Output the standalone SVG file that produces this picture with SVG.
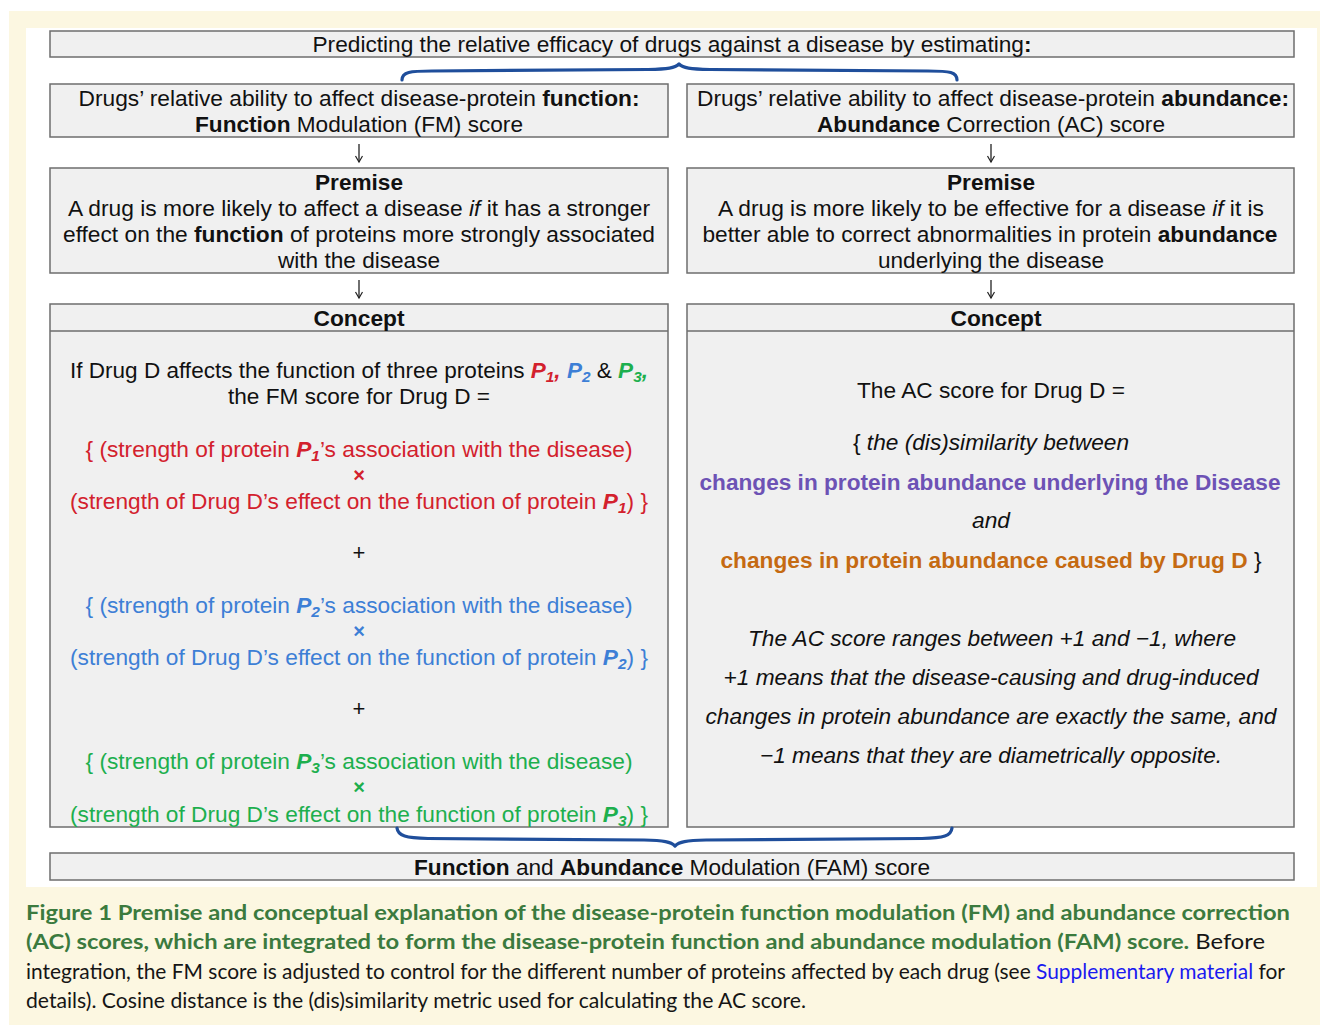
<svg xmlns="http://www.w3.org/2000/svg" width="1320" height="1025" viewBox="0 0 1320 1025">
<defs>
<style>
.bg{fill:#fcf7e1}
.panel{fill:#ffffff}
.box{fill:#f0f0f0;stroke:#6e6e6e;stroke-width:1.5}
.t{font-family:"Liberation Sans",Arial,Helvetica,sans-serif;font-size:22px;fill:#111;text-anchor:middle}
.b{font-weight:bold}
.i{font-style:italic}
.bi{font-weight:bold;font-style:italic}
.sub{font-size:15px}
.red{fill:#d3212d}
.blue{fill:#3d7fd6}
.green{fill:#1daf4e}
.purple{fill:#6d52b5}
.orange{fill:#c56a12}
.x{font-weight:bold;font-size:20px}
.brace{fill:none;stroke:#1f4e9b;stroke-width:3.2;stroke-linecap:round;stroke-linejoin:round}
.arr{stroke:#222;stroke-width:1.3;fill:none}
.cap{font-family:Lato,"Open Sans","Liberation Sans",sans-serif;font-size:21px;fill:#151515}
.capg{fill:#3b7a3e;font-weight:bold}
.link{fill:#1a1af0}
</style>
<marker id="ah" markerWidth="10" markerHeight="10" refX="7" refY="4" orient="auto" markerUnits="userSpaceOnUse">
<path d="M1,0.5 L7,4 L1,7.5" fill="none" stroke="#222" stroke-width="1.2"/>
</marker>
</defs>

<rect x="0" y="0" width="1320" height="1025" fill="#ffffff"/>
<rect class="bg" x="9" y="11" width="1311" height="1014"/>
<rect class="panel" x="26" y="28" width="1291" height="859"/>

<g id="title">
<rect class="box" x="50" y="31" width="1244" height="26"/>
<text class="t" x="672" y="52" textLength="719" lengthAdjust="spacingAndGlyphs">Predicting the relative efficacy of drugs against a disease by estimating<tspan class="b">:</tspan></text>
</g>

<g id="fm-score">
<rect class="box" x="50" y="84" width="618" height="53"/>
<text class="t" x="359" y="106" textLength="561" lengthAdjust="spacingAndGlyphs">Drugs’ relative ability to affect disease-protein <tspan class="b">function:</tspan></text>
<text class="t" x="359" y="132" textLength="328" lengthAdjust="spacingAndGlyphs"><tspan class="b">Function</tspan> Modulation (FM) score</text>
</g>

<g id="ac-score">
<rect class="box" x="687" y="84" width="607" height="53"/>
<text class="t" x="993" y="106" textLength="592" lengthAdjust="spacingAndGlyphs">Drugs’ relative ability to affect disease-protein <tspan class="b">abundance:</tspan></text>
<text class="t" x="991" y="132" textLength="348" lengthAdjust="spacingAndGlyphs"><tspan class="b">Abundance</tspan> Correction (AC) score</text>
</g>

<g id="fm-premise">
<rect class="box" x="50" y="168" width="618" height="105"/>
<text class="t b" x="359" y="190" textLength="88" lengthAdjust="spacingAndGlyphs">Premise</text>
<text class="t" x="359" y="216" textLength="582" lengthAdjust="spacingAndGlyphs">A drug is more likely to affect a disease <tspan class="i">if</tspan> it has a stronger</text>
<text class="t" x="359" y="242" textLength="592" lengthAdjust="spacingAndGlyphs">effect on the <tspan class="b">function</tspan> of proteins more strongly associated</text>
<text class="t" x="359" y="268" textLength="162" lengthAdjust="spacingAndGlyphs">with the disease</text>
</g>

<g id="ac-premise">
<rect class="box" x="687" y="168" width="607" height="105"/>
<text class="t b" x="991" y="190" textLength="88" lengthAdjust="spacingAndGlyphs">Premise</text>
<text class="t" x="991" y="216" textLength="546" lengthAdjust="spacingAndGlyphs">A drug is more likely to be effective for a disease <tspan class="i">if</tspan> it is</text>
<text class="t" x="990" y="242" textLength="575" lengthAdjust="spacingAndGlyphs">better able to correct abnormalities in protein <tspan class="b">abundance</tspan></text>
<text class="t" x="991" y="268" textLength="226" lengthAdjust="spacingAndGlyphs">underlying the disease</text>
</g>

<g id="fm-concept">
<rect class="box" x="50" y="304" width="618" height="523"/>
<line x1="50" y1="331" x2="668" y2="331" stroke="#6e6e6e" stroke-width="1.5"/>
<text class="t b" x="359" y="326" textLength="91" lengthAdjust="spacingAndGlyphs">Concept</text>
<text class="t" x="359" y="378" textLength="578" lengthAdjust="spacingAndGlyphs">If Drug D affects the function of three proteins <tspan class="bi red">P<tspan class="sub" dy="4">1</tspan><tspan dy="-4">,</tspan></tspan> <tspan class="bi blue">P<tspan class="sub" dy="4">2</tspan></tspan><tspan dy="-4"> &amp; </tspan><tspan class="bi green">P<tspan class="sub" dy="4">3</tspan><tspan dy="-4">,</tspan></tspan></text>
<text class="t" x="359" y="404" textLength="262" lengthAdjust="spacingAndGlyphs">the FM score for Drug D =</text>

<text class="t red" x="359" y="457" textLength="547" lengthAdjust="spacingAndGlyphs">{ (strength of protein <tspan class="bi">P<tspan class="sub" dy="4">1</tspan></tspan><tspan dy="-4">’s association with the disease)</tspan></text>
<text class="t red x" x="359" y="482">×</text>
<text class="t red" x="359" y="509" textLength="578" lengthAdjust="spacingAndGlyphs">(strength of Drug D’s effect on the function of protein <tspan class="bi">P<tspan class="sub" dy="4">1</tspan></tspan><tspan dy="-4">) }</tspan></text>
<text class="t" x="359" y="560">+</text>

<text class="t blue" x="359" y="613" textLength="547" lengthAdjust="spacingAndGlyphs">{ (strength of protein <tspan class="bi">P<tspan class="sub" dy="4">2</tspan></tspan><tspan dy="-4">’s association with the disease)</tspan></text>
<text class="t blue x" x="359" y="638">×</text>
<text class="t blue" x="359" y="665" textLength="578" lengthAdjust="spacingAndGlyphs">(strength of Drug D’s effect on the function of protein <tspan class="bi">P<tspan class="sub" dy="4">2</tspan></tspan><tspan dy="-4">) }</tspan></text>
<text class="t" x="359" y="716">+</text>

<text class="t green" x="359" y="769" textLength="547" lengthAdjust="spacingAndGlyphs">{ (strength of protein <tspan class="bi">P<tspan class="sub" dy="4">3</tspan></tspan><tspan dy="-4">’s association with the disease)</tspan></text>
<text class="t green x" x="359" y="794">×</text>
<text class="t green" x="359" y="822" textLength="578" lengthAdjust="spacingAndGlyphs">(strength of Drug D’s effect on the function of protein <tspan class="bi">P<tspan class="sub" dy="4">3</tspan></tspan><tspan dy="-4">) }</tspan></text>
</g>

<g id="ac-concept">
<rect class="box" x="687" y="304" width="607" height="523"/>
<line x1="687" y1="331" x2="1294" y2="331" stroke="#6e6e6e" stroke-width="1.5"/>
<text class="t b" x="996" y="326" textLength="91" lengthAdjust="spacingAndGlyphs">Concept</text>
<text class="t" x="991" y="398" textLength="268" lengthAdjust="spacingAndGlyphs">The AC score for Drug D =</text>
<text class="t" x="991" y="450" textLength="276" lengthAdjust="spacingAndGlyphs">{ <tspan class="i">the (dis)similarity between</tspan></text>
<text class="t b purple" x="990" y="490" textLength="581" lengthAdjust="spacingAndGlyphs">changes in protein abundance underlying the Disease</text>
<text class="t i" x="991" y="528" textLength="38" lengthAdjust="spacingAndGlyphs">and</text>
<text class="t" x="991" y="568" textLength="541" lengthAdjust="spacingAndGlyphs"><tspan class="b orange">changes in protein abundance caused by Drug D</tspan> }</text>
<text class="t i" x="992" y="646" textLength="488" lengthAdjust="spacingAndGlyphs">The AC score ranges between +1 and −1, where</text>
<text class="t i" x="991" y="685" textLength="535" lengthAdjust="spacingAndGlyphs">+1 means that the disease-causing and drug-induced</text>
<text class="t i" x="991" y="724" textLength="571" lengthAdjust="spacingAndGlyphs">changes in protein abundance are exactly the same, and</text>
<text class="t i" x="991" y="763" textLength="462" lengthAdjust="spacingAndGlyphs">−1 means that they are diametrically opposite.</text>
</g>

<g id="fam-score">
<rect class="box" x="50" y="853" width="1244" height="27"/>
<text class="t" x="672" y="875" textLength="516" lengthAdjust="spacingAndGlyphs"><tspan class="b">Function</tspan> and <tspan class="b">Abundance</tspan> Modulation (FAM) score</text>
</g>

<g id="connectors">
<path class="brace" d="M402,80 C402,72 410,71 432,71 L648,69.5 C668,69 675,68 679,64 C683,68 690,69 710,69.5 L928,71 C950,71 957,72 957,80"/>
<path class="brace" d="M397,828 C398,836 406,838 428,838.5 L644,840 C664,840.5 671,842 675,846 C679,842 686,840.5 706,840 L922,838.5 C944,838 951,836 952,828"/>
<line class="arr" x1="359" y1="144" x2="359" y2="162" marker-end="url(#ah)"/>
<line class="arr" x1="991" y1="144" x2="991" y2="162" marker-end="url(#ah)"/>
<line class="arr" x1="359" y1="280" x2="359" y2="298" marker-end="url(#ah)"/>
<line class="arr" x1="991" y1="280" x2="991" y2="298" marker-end="url(#ah)"/>
</g>

<g id="caption">
<text class="cap capg" x="26" y="920" textLength="1264" lengthAdjust="spacingAndGlyphs">Figure 1  Premise and conceptual explanation of the disease-protein function modulation (FM) and abundance correction</text>
<text class="cap" x="26" y="949" textLength="1239" lengthAdjust="spacingAndGlyphs"><tspan class="capg">(AC) scores, which are integrated to form the disease-protein function and abundance modulation (FAM) score.</tspan> Before</text>
<text class="cap" x="26" y="979" textLength="1259" lengthAdjust="spacingAndGlyphs">integration, the FM score is adjusted to control for the different number of proteins affected by each drug (see <tspan class="link">Supplementary material</tspan> for</text>
<text class="cap" x="26" y="1008" textLength="780" lengthAdjust="spacingAndGlyphs">details). Cosine distance is the (dis)similarity metric used for calculating the AC score.</text>
</g>
</svg>
